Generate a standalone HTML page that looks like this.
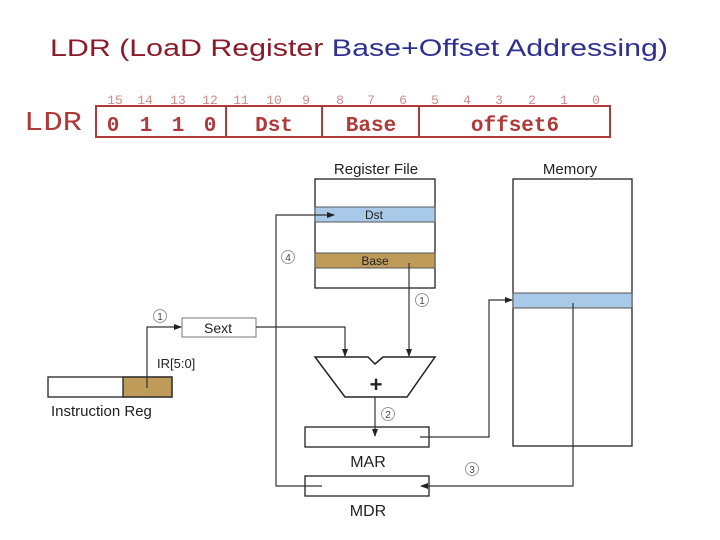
<!DOCTYPE html>
<html><head><style>
body{margin:0;background:#fff;width:720px;height:540px;overflow:hidden}
svg{display:block}
</style></head><body>
<svg width="720" height="540" viewBox="0 0 720 540" xmlns="http://www.w3.org/2000/svg">
<defs><marker id="a" markerWidth="8" markerHeight="8" refX="7" refY="4" orient="auto" markerUnits="userSpaceOnUse"><path d="M0,1 L8,4 L0,7 z" fill="#222"/></marker></defs>
<text x="359" y="56" text-anchor="middle" font-family="Liberation Sans, sans-serif" font-size="24" textLength="618" lengthAdjust="spacingAndGlyphs"><tspan fill="#8b1a2a">LDR (LoaD Register </tspan><tspan fill="#2e3192">Base+Offset Addressing)</tspan></text>
<g font-family="Liberation Mono, monospace" fill="#d08a8a" font-size="13" text-anchor="middle">
<text x="115" y="104">15</text><text x="145" y="104">14</text><text x="178" y="104">13</text><text x="210" y="104">12</text><text x="241" y="104">11</text><text x="274" y="104">10</text><text x="306" y="104">9</text><text x="340" y="104">8</text><text x="371" y="104">7</text><text x="403" y="104">6</text><text x="435" y="104">5</text><text x="467" y="104">4</text><text x="499" y="104">3</text><text x="532" y="104">2</text><text x="564" y="104">1</text><text x="596" y="104">0</text>
</g>
<text x="24" y="130" font-family="Liberation Mono, monospace" font-size="27" fill="#b03a3a" textLength="58" lengthAdjust="spacingAndGlyphs">LDR</text>
<rect x="96" y="106" width="514" height="31" fill="none" stroke="#b03a3a" stroke-width="2"/>
<line x1="226" y1="106" x2="226" y2="137" stroke="#b03a3a" stroke-width="2"/>
<line x1="322" y1="106" x2="322" y2="137" stroke="#b03a3a" stroke-width="2"/>
<line x1="419" y1="106" x2="419" y2="137" stroke="#b03a3a" stroke-width="2"/>
<g font-family="Liberation Mono, monospace" font-weight="bold" font-size="21" fill="#b03a3a" text-anchor="middle">
<text x="113" y="131">0</text><text x="146" y="131">1</text><text x="178" y="131">1</text><text x="210" y="131">0</text>
<text x="274" y="131">Dst</text><text x="371" y="131">Base</text><text x="515" y="131">offset6</text>
</g>
<g font-family="Liberation Sans, sans-serif" fill="#222">
<text x="376" y="174" text-anchor="middle" font-size="15">Register File</text>
<text x="570" y="174" text-anchor="middle" font-size="15">Memory</text>
<rect x="315" y="179" width="120" height="109" fill="#fff" stroke="#222" stroke-width="1.3"/>
<rect x="315" y="207" width="120" height="15" fill="#a9c9e8" stroke="#555" stroke-width="1"/>
<text x="374" y="219" text-anchor="middle" font-size="12">Dst</text>
<rect x="315" y="253" width="120" height="15" fill="#bf9b5a" stroke="#555" stroke-width="1"/>
<text x="375" y="265" text-anchor="middle" font-size="12">Base</text>
<rect x="513" y="179" width="119" height="267" fill="#fff" stroke="#222" stroke-width="1.3"/>
<rect x="513" y="293" width="119" height="15" fill="#a9c9e8" stroke="#555" stroke-width="1"/>
<rect x="182" y="318" width="74" height="19" fill="#fff" stroke="#777" stroke-width="1"/>
<text x="218" y="333" text-anchor="middle" font-size="14">Sext</text>
<rect x="48" y="377" width="124" height="20" fill="#fff" stroke="#222" stroke-width="1.3"/>
<rect x="123" y="377" width="49" height="20" fill="#bf9b5a" stroke="#222" stroke-width="1.3"/>
<text x="51" y="416" font-size="15">Instruction Reg</text>
<text x="157" y="368" font-size="13">IR[5:0]</text>
<path d="M315,357 L368,357 L375,364 L383,357 L435,357 L407,397 L345,397 Z" fill="#fff" stroke="#222" stroke-width="1.5"/>
<text x="376" y="392" text-anchor="middle" font-size="22" font-weight="bold">+</text>
<rect x="305" y="427" width="124" height="20" fill="#fff" stroke="#222" stroke-width="1.3"/>
<text x="368" y="467" text-anchor="middle" font-size="16">MAR</text>
<rect x="305" y="476" width="124" height="20" fill="#fff" stroke="#222" stroke-width="1.3"/>
<text x="368" y="516" text-anchor="middle" font-size="16">MDR</text>
</g>
<g fill="none" stroke="#333" stroke-width="1.2">
<polyline points="147,388 147,327 181,327" marker-end="url(#a)"/>
<polyline points="256,327 345,327 345,356" marker-end="url(#a)"/>
<polyline points="409,263 409,356" marker-end="url(#a)"/>
<polyline points="375,397 375,436" marker-end="url(#a)"/>
<polyline points="420,437 489,437 489,300 512,300" marker-end="url(#a)"/>
<polyline points="573,303 573,486 421,486" marker-end="url(#a)"/>
<polyline points="322,486 276,486 276,215 334,215" marker-end="url(#a)"/>
</g>
<g font-family="Liberation Sans, sans-serif" font-size="10" fill="#444" text-anchor="middle">
<circle cx="160" cy="316" r="6.5" fill="#fff" stroke="#999"/><text x="160" y="320">1</text>
<circle cx="288" cy="257" r="6.5" fill="#fff" stroke="#999"/><text x="288" y="261">4</text>
<circle cx="422" cy="300" r="6.5" fill="#fff" stroke="#999"/><text x="422" y="304">1</text>
<circle cx="388" cy="414" r="6.5" fill="#fff" stroke="#999"/><text x="388" y="418">2</text>
<circle cx="472" cy="469" r="6.5" fill="#fff" stroke="#999"/><text x="472" y="473">3</text>
</g>
</svg>
</body></html>
